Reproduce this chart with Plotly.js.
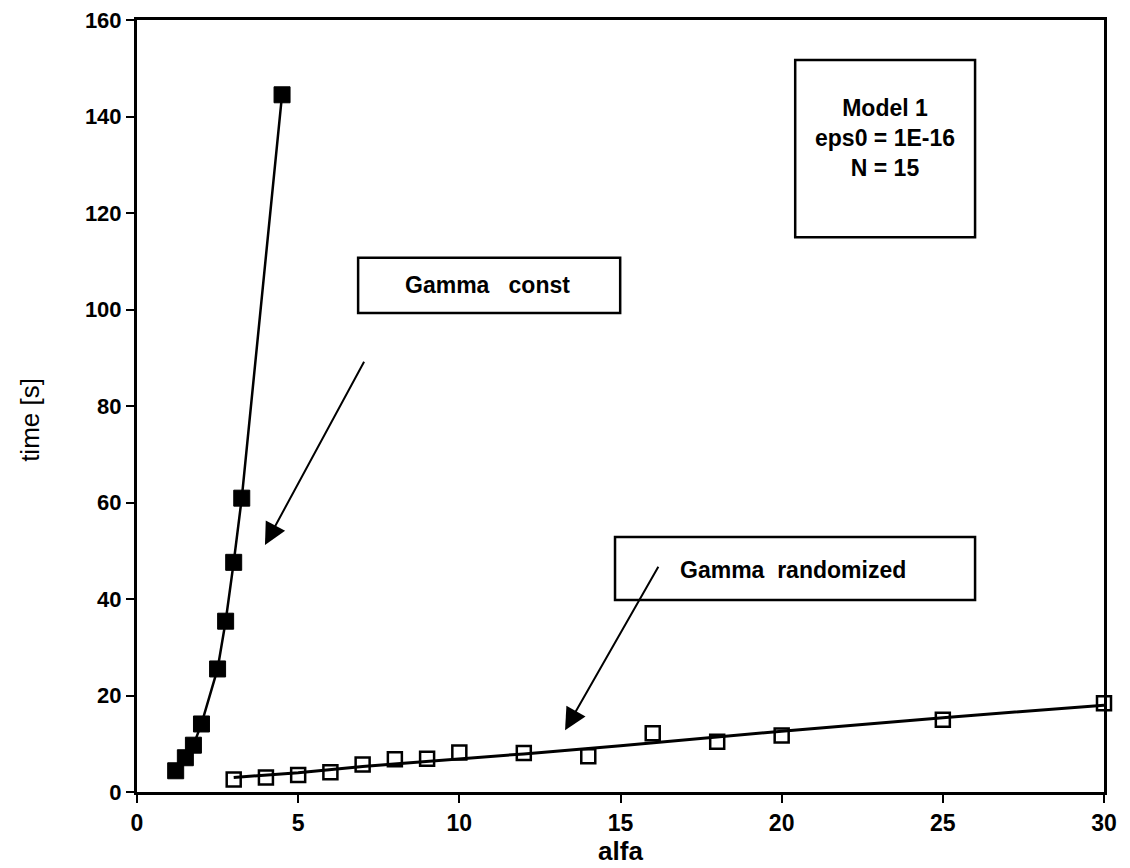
<!DOCTYPE html>
<html>
<head>
<meta charset="utf-8">
<script src="https://cdn.plot.ly/plotly-3.0.1.min.js"></script>
<style>html,body{margin:0;padding:0;background:#fff;}#chart{width:1130px;height:868px;}</style>
</head>
<body>
<div id="chart"></div>
<script>
// Gamma const (filled squares)
var alfaConst = [1.2, 1.5, 1.75, 2.0, 2.5, 2.75, 3.0, 3.25, 4.5];
var timeConst = [4.4, 7.1, 9.7, 14.1, 25.5, 35.4, 47.6, 60.9, 144.5];
// Gamma randomized (open squares)
var alfaRand = [3, 4, 5, 6, 7, 8, 9, 10, 12, 14, 16, 18, 20, 25, 30];
var timeRand = [2.6, 3.0, 3.5, 4.1, 5.7, 6.8, 6.9, 8.2, 8.1, 7.4, 12.2, 10.4, 11.7, 15.0, 18.4];
// Fitted curve drawn through the randomized points
var fitAlfa = [3, 5, 7, 10, 12, 15, 20, 25, 30];
var fitTime = [3.0, 4.0, 5.3, 6.8, 7.9, 9.6, 12.6, 15.4, 18.0];

var xTicks = [0, 5, 10, 15, 20, 25, 30];
var yTicks = [0, 20, 40, 60, 80, 100, 120, 140, 160];

var FONT = 'Liberation Sans, Arial, Helvetica, sans-serif';

var traces = [
  {
    x: alfaConst, y: timeConst, type: 'scatter', mode: 'lines+markers',
    name: 'Gamma const',
    line: {color: '#000', width: 2.5},
    marker: {symbol: 'square', size: 16, color: '#000', line: {color: '#000', width: 1}},
    cliponaxis: false
  },
  {
    x: fitAlfa, y: fitTime, type: 'scatter', mode: 'lines',
    name: 'fit', line: {color: '#000', width: 3}, cliponaxis: false
  },
  {
    x: alfaRand, y: timeRand, type: 'scatter', mode: 'markers',
    name: 'Gamma randomized',
    marker: {symbol: 'square-open', size: 14, color: '#000', line: {color: '#000', width: 2.5}},
    cliponaxis: false
  }
];

var txt = {
  showarrow: false, xref: 'x', yref: 'y',
  font: {family: FONT, size: 23, color: '#000', weight: 'bold'}, align: 'center'
};
var box = {type: 'rect', xref: 'x', yref: 'y', line: {color: '#000', width: 2.5}, fillcolor: 'rgba(0,0,0,0)'};

var layout = {
  width: 1130, height: 868,
  margin: {l: 137, r: 26, t: 20, b: 76},
  paper_bgcolor: '#fff', plot_bgcolor: '#fff',
  showlegend: false,
  font: {family: FONT, size: 20, color: '#000'},
  xaxis: {
    range: [0, 30], tickvals: xTicks, ticktext: xTicks.map(String),
    ticks: 'outside', ticklen: 8, tickwidth: 2, tickcolor: '#000',
    showline: true, linecolor: '#000', linewidth: 3, mirror: true,
    showgrid: false, zeroline: false,
    tickfont: {family: FONT, size: 23, color: '#000', weight: 'bold'},
    title: {text: 'alfa', font: {family: FONT, size: 26, color: '#000', weight: 'bold'}, standoff: 6}
  },
  yaxis: {
    range: [0, 160], tickvals: yTicks, ticktext: yTicks.map(String),
    ticks: 'outside', ticklen: 8, tickwidth: 2, tickcolor: '#000',
    showline: true, linecolor: '#000', linewidth: 3, mirror: true,
    showgrid: false, zeroline: false,
    tickfont: {family: FONT, size: 22, color: '#000', weight: 'bold'}
  },
  shapes: [
    Object.assign({}, box, {x0: 20.42, x1: 26.0, y0: 115.0, y1: 151.7}),
    Object.assign({}, box, {x0: 6.86, x1: 14.99, y0: 99.3, y1: 110.7}),
    Object.assign({}, box, {x0: 14.83, x1: 26.0, y0: 39.8, y1: 52.85})
  ],
  annotations: [
    {
      text: 'time [s]', xref: 'paper', yref: 'paper', x: -0.1107, y: 0.482,
      xanchor: 'center', yanchor: 'middle', textangle: -90, showarrow: false,
      font: {family: FONT, size: 26, color: '#000'}
    },
    Object.assign({}, txt, {x: 23.2, y: 135.5, text: 'Model 1<br>eps0 = 1E-16<br>N = 15'}),
    Object.assign({}, txt, {x: 10.86, y: 105.1, text: 'Gamma&nbsp;&nbsp; const'}),
    Object.assign({}, txt, {x: 20.35, y: 46.0, text: 'Gamma&nbsp; randomized'}),
    {
      x: 3.97, y: 51.2, ax: 7.07, ay: 89.5, axref: 'x', ayref: 'y', xref: 'x', yref: 'y',
      text: '', showarrow: true, arrowhead: 2, arrowsize: 2.2, arrowwidth: 2, arrowcolor: '#000'
    },
    {
      x: 13.28, y: 12.8, ax: 16.2, ay: 47, axref: 'x', ayref: 'y', xref: 'x', yref: 'y',
      text: '', showarrow: true, arrowhead: 2, arrowsize: 2.2, arrowwidth: 2, arrowcolor: '#000'
    }
  ]
};

Plotly.newPlot('chart', traces, layout, {displayModeBar: false, staticPlot: true});
</script>
</body>
</html>
